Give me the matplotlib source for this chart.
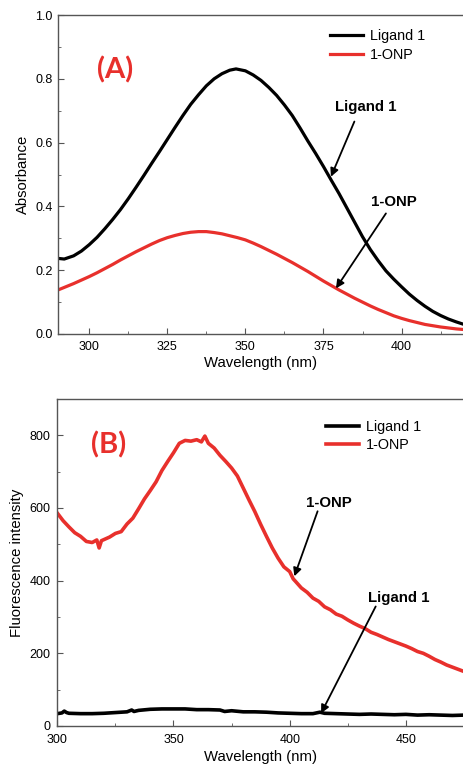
import matplotlib.pyplot as plt

plt.rcParams['font.family'] = ['Liberation Sans', 'DejaVu Sans']

RED = '#e8302c'
SPINE = '#555555'

# (A) absorbance spectra
abs_nm = [290, 292, 295, 297.5, 300, 302.5, 305, 307.5, 310, 312.5, 315, 317.5, 320,
          322.5, 325, 327.5, 330, 332.5, 335, 337.5, 340, 342.5, 345, 347, 350, 352.5,
          355, 357.5, 360, 362.5, 365, 367.5, 370, 372.5, 375, 377.5, 380, 382.5, 385,
          387.5, 390, 392.5, 395, 397.5, 400, 402.5, 405, 407.5, 410, 412.5, 415,
          417.5, 420]
abs_ligand = [0.237, 0.235, 0.245, 0.26, 0.28, 0.303, 0.33, 0.359, 0.39, 0.424, 0.46,
              0.497, 0.535, 0.572, 0.61, 0.648, 0.685, 0.72, 0.75, 0.778, 0.80, 0.816,
              0.827, 0.831, 0.825, 0.812, 0.795, 0.773, 0.748, 0.718, 0.685, 0.646,
              0.605, 0.566, 0.525, 0.482, 0.44, 0.395, 0.35, 0.305, 0.265, 0.23,
              0.198, 0.172, 0.148, 0.125, 0.105, 0.087, 0.071, 0.058, 0.047, 0.038, 0.03]
abs_onp_nm = [290, 292.5, 295, 297.5, 300, 302.5, 305, 307.5, 310, 312.5, 315, 317.5,
              320, 322.5, 325, 327.5, 330, 332.5, 335, 337.5, 340, 342.5, 345, 347.5,
              350, 352.5, 355, 357.5, 360, 362.5, 365, 367.5, 370, 372.5, 375, 377.5,
              380, 382.5, 385, 387.5, 390, 392.5, 395, 397.5, 400, 402.5, 405, 407.5,
              410, 412.5, 415, 417.5, 420]
abs_onp = [0.138, 0.148, 0.158, 0.169, 0.18, 0.192, 0.205, 0.218, 0.232, 0.245, 0.258,
           0.27, 0.282, 0.293, 0.302, 0.309, 0.315, 0.319, 0.321, 0.321, 0.318, 0.314,
           0.308, 0.302, 0.295, 0.285, 0.274, 0.262, 0.25, 0.237, 0.224, 0.21, 0.196,
           0.181, 0.166, 0.152, 0.138, 0.125, 0.112, 0.1, 0.088, 0.077, 0.067, 0.057,
           0.049, 0.042, 0.036, 0.03, 0.026, 0.022, 0.019, 0.016, 0.014]

# (B) fluorescence spectra
fl_onp_nm = [300, 302.5, 305, 307.5, 310, 312.5, 315, 317, 318, 319, 322.5, 325, 327.5,
             330, 332.5, 335, 337.5, 340, 342.5, 345, 347.5, 350, 352.5, 355, 357.5,
             360, 362, 363.5, 365, 367.5, 370, 372.5, 375, 377.5, 380, 382.5, 385,
             387.5, 390, 392.5, 395, 397.5, 400, 401.5, 402.5, 405, 407.5, 410, 412.5,
             415, 417.5, 420, 422.5, 425, 427.5, 430, 432.5, 435, 437.5, 440, 442.5,
             445, 447.5, 450, 452.5, 455, 457.5, 460, 462.5, 465, 467.5, 470, 472.5, 475]
fl_onp = [586, 565, 548, 532, 522, 508, 505, 512, 490, 510, 520, 530, 535,
          556, 572, 598, 625, 648, 672, 703, 728, 752, 778, 786, 784,
          788, 782, 798, 778, 765, 745, 728, 710, 688, 655, 622, 590,
          555, 522, 490, 462, 438, 425, 405, 398, 380, 368, 352, 343,
          328, 320, 308, 302, 292, 283, 275, 268, 258, 252, 245, 238,
          232, 226, 220, 213, 205, 200, 192, 183, 176, 168, 162, 156, 150]
fl_lig_nm = [300, 302, 303, 304, 305, 310, 315, 320, 325, 330, 332, 333, 335, 340, 345,
             350, 355, 360, 365, 370, 372, 375, 380, 385, 390, 395, 400, 405, 410,
             413, 415, 420, 425, 430, 435, 440, 445, 450, 455, 460, 465, 470, 475]
fl_lig = [34, 36, 41, 37, 35, 34, 34, 35, 37, 39, 44, 40, 43, 46, 47,
          47, 47, 45, 45, 44, 40, 42, 39, 39, 38, 36, 35, 34, 34,
          38, 35, 34, 33, 32, 33, 32, 31, 32, 30, 31, 30, 29, 30]

fig = plt.figure(figsize=(4.64, 7.65), dpi=100)
ax1 = fig.add_axes([58/464, 431/765, 406/464, 319/765])
ax2 = fig.add_axes([57.3/464, 39/765, 406.7/464, 327/765])

def style(ax):
    for s in ['left', 'bottom', 'top']:
        ax.spines[s].set_color(SPINE)
        ax.spines[s].set_linewidth(1.0)
    ax.spines['right'].set_visible(False)
    ax.tick_params(which='both', direction='in', color=SPINE, labelsize=9, right=False, top=False)
    ax.tick_params(which='major', length=4, pad=4)
    ax.tick_params(which='minor', length=2.5)

ax1.plot(abs_nm, abs_ligand, color='black', lw=2.3, label='Ligand 1')
ax1.plot(abs_onp_nm, abs_onp, color=RED, lw=2.3, label='1-ONP')
ax1.set_xlim(290, 420)
ax1.set_ylim(0, 1.0)
ax1.set_xticks([300, 325, 350, 375, 400])
ax1.set_xticks([312.5, 337.5, 362.5, 387.5, 412.5], minor=True)
ax1.set_yticks([0, 0.2, 0.4, 0.6, 0.8, 1.0])
ax1.set_yticks([0.1, 0.3, 0.5, 0.7, 0.9], minor=True)
ax1.set_yticklabels(['0.0', '0.2', '0.4', '0.6', '0.8', '1.0'])
style(ax1)
ax1.tick_params(axis='x', which='major', pad=5)
ax1.set_xlabel('Wavelength (nm)', fontsize=10.7, labelpad=2)
ax1.set_ylabel('Absorbance', fontsize=10.7, labelpad=4)
ax1.legend(loc='upper left', bbox_to_anchor=(0.67, 0.955), frameon=False, fontsize=10.4,
           borderaxespad=0, borderpad=0, handlelength=2.3, handletextpad=0.45,
           labelspacing=0.3)
ax1.text(0.14, 0.828, '(A)', transform=ax1.transAxes, color=RED, fontsize=21,
         fontweight='bold', family='Lato', ha='center', va='center')
arrow = dict(arrowstyle='-|>', color='black', lw=1.3, mutation_scale=12, shrinkA=0, shrinkB=0)
ax1.annotate('', xy=(377.4, 0.493), xytext=(384.9, 0.666), arrowprops=arrow)
ax1.text(388.6, 0.711, 'Ligand 1', fontsize=10.8, fontweight='bold', ha='center', va='center')
ax1.annotate('', xy=(379, 0.143), xytext=(395, 0.378), arrowprops=arrow)
ax1.text(397.7, 0.415, '1-ONP', fontsize=10.8, fontweight='bold', ha='center', va='center')

ax2.plot(fl_lig_nm, fl_lig, color='black', lw=2.6, label='Ligand 1')
ax2.plot(fl_onp_nm, fl_onp, color=RED, lw=2.6, label='1-ONP')
ax2.set_xlim(300, 474.8)
ax2.set_ylim(0, 900)
ax2.set_xticks([300, 350, 400, 450])
ax2.set_xticks([325, 375, 425, 475], minor=True)
ax2.set_yticks([0, 200, 400, 600, 800])
ax2.set_yticks([100, 300, 500, 700], minor=True)
style(ax2)
ax2.tick_params(axis='x', which='major', pad=6)
ax2.tick_params(axis='y', which='major', pad=5)
ax2.set_xlabel('Wavelength (nm)', fontsize=10.7, labelpad=3)
ax2.set_ylabel('Fluorescence intensity', fontsize=10.7, labelpad=4)
ax2.legend(loc='upper left', bbox_to_anchor=(0.661, 0.935), frameon=False, fontsize=10.4,
           borderaxespad=0, borderpad=0, handlelength=2.3, handletextpad=0.45,
           labelspacing=0.25)
ax2.text(0.125, 0.859, '(B)', transform=ax2.transAxes, color=RED, fontsize=21,
         fontweight='bold', family='Lato', ha='center', va='center')
ax2.annotate('', xy=(402, 412), xytext=(412, 591), arrowprops=arrow)
ax2.text(417, 614, '1-ONP', fontsize=10.8, fontweight='bold', ha='center', va='center')
ax2.annotate('', xy=(413.5, 35), xytext=(437, 329), arrowprops=arrow)
ax2.text(447, 352, 'Ligand 1', fontsize=10.8, fontweight='bold', ha='center', va='center')

fig.savefig('out.png', dpi=100)
